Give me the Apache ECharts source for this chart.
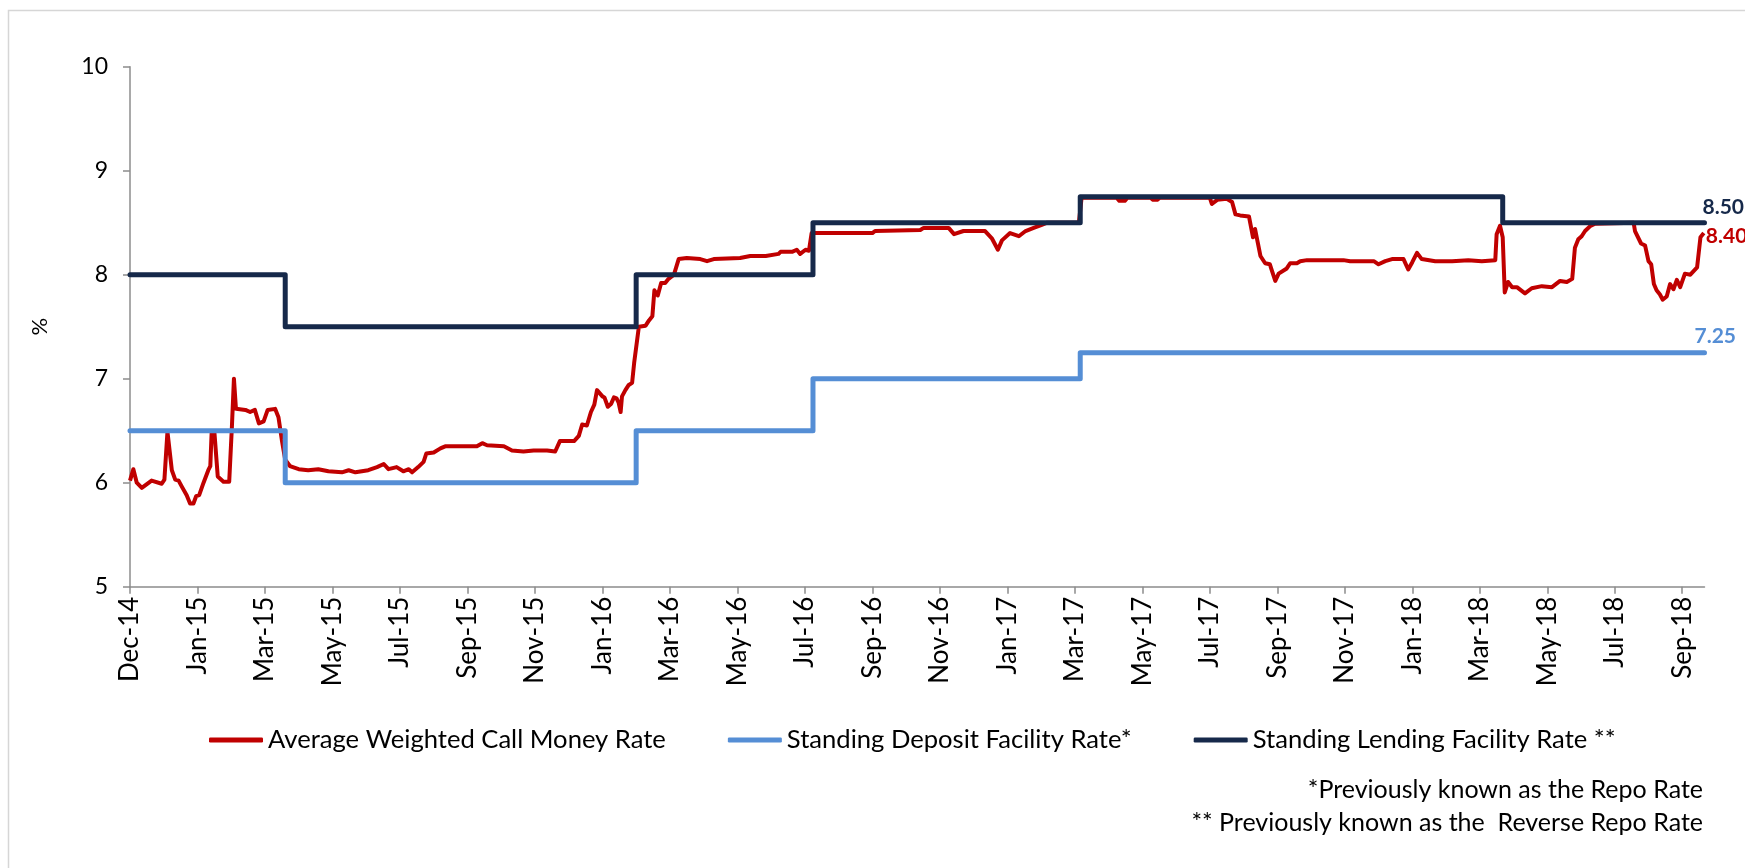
<!DOCTYPE html>
<html><head><meta charset="utf-8">
<script src="https://cdn.jsdelivr.net/npm/echarts@6/dist/echarts.min.js"></script>
<style>html,body{margin:0;padding:0;background:#fff}#c{width:1745px;height:868px}</style>
</head><body><div id="c"></div>
<script>
// x positions: 10 units per labelled tick interval
const tickLabels = ['Dec-14','Jan-15','Mar-15','May-15','Jul-15','Sep-15','Nov-15','Jan-16','Mar-16','May-16','Jul-16','Sep-16','Nov-16','Jan-17','Mar-17','May-17','Jul-17','Sep-17','Nov-17','Jan-18','Mar-18','May-18','Jul-18','Sep-18'];
const xMax = 233.3;

const sdfPos    = [0, 23.0, 75.0, 101.2, 140.8, 233.3];
const sdfValues = [6.5, 6.0, 6.5, 7.0, 7.25, 7.25];

const slfPos    = [0, 23.0, 75.0, 101.2, 140.8, 203.4, 233.3];
const slfValues = [8.0, 7.5, 8.0, 8.5, 8.75, 8.5, 8.5];

const callPos = [0,0.5,1.0,1.75,3.2,4.7,5.1,5.55,6.2,6.7,7.2,7.7,8.4,8.9,9.4,9.8,10.25,10.9,11.6,11.9,12.1,12.5,13.0,13.85,14.7,15.1,15.4,15.7,17.1,17.8,18.5,19.1,19.8,20.4,21.5,22.0,22.5,23.0,23.7,25.0,26.4,27.9,29.4,31.4,32.4,33.4,35.3,36.6,37.6,38.3,39.5,40.5,41.3,41.8,42.7,43.5,43.9,45.0,46.0,
46.7,49.0,51.4,52.2,52.9,55.4,56.6,58.3,59.8,61.8,63.0,63.7,65.8,66.5,67.0,67.7,68.3,68.8,69.2,70.0,70.3,70.8,71.3,71.7,72.1,72.4,72.7,72.9,73.4,73.9,74.4,74.7,75.4,76.4,76.9,77.4,77.7,78.2,78.7,79.3,79.8,80.6,81.3,82.5,84.5,85.5,86.5,90.4,91.9,
93.4,94.2,96.1,96.4,98.1,98.8,99.3,100.1,100.6,101.0,110.0,110.4,117.1,117.6,121.3,122.1,123.5,126.7,127.7,128.6,129.2,130.4,131.7,132.7,133.9,135.1,135.9,140.6,
141.0,146.2,146.6,147.4,147.8,151.2,151.6,152.2,152.6,160.0,160.3,161.1,162.5,163.3,163.8,164.5,165.8,166.4,166.7,167.1,167.5,168.2,168.9,169.2,169.7,170.2,171.4,171.9,172.9,173.4,174.4,176.9,179.8,180.8,182.3,184.3,185.0,186.0,
187.0,188.7,189.4,190.0,190.7,191.4,193.4,195.9,198.3,200.3,202.3,202.5,203.0,203.4,203.7,204.2,204.8,205.5,206.7,207.7,209.2,210.7,211.9,212.9,213.7,214.1,214.6,215.1,215.6,216.4,217.1,222.8,223.0,223.9,224.5,225.0,225.4,225.8,226.2,226.7,227.1,227.7,228.2,228.7,229.2,229.7,230.4,231.2,232.2,232.7,233.2];
const callValues = [6.02,6.13,6.0,5.95,6.02,5.99,6.03,6.49,6.12,6.03,6.02,5.96,5.88,5.8,5.8,5.87,5.88,6.0,6.12,6.16,6.49,6.49,6.06,6.01,6.01,6.54,7.0,6.71,6.70,6.68,6.70,6.57,6.59,6.70,6.71,6.63,6.41,6.22,6.16,6.13,6.12,6.13,6.11,6.10,6.12,6.10,6.12,6.15,6.18,6.13,6.15,6.11,6.13,6.10,6.15,6.20,6.28,6.29,6.33,
6.35,6.35,6.35,6.38,6.36,6.35,6.31,6.30,6.31,6.31,6.30,6.40,6.40,6.45,6.56,6.55,6.68,6.75,6.89,6.83,6.82,6.73,6.76,6.82,6.81,6.77,6.68,6.83,6.89,6.94,6.96,7.15,7.50,7.51,7.56,7.60,7.85,7.80,7.92,7.92,7.96,8.0,8.15,8.16,8.15,8.13,8.15,8.16,8.18,
8.18,8.18,8.20,8.22,8.22,8.24,8.20,8.24,8.23,8.40,8.40,8.42,8.43,8.45,8.45,8.39,8.42,8.42,8.35,8.24,8.33,8.40,8.37,8.42,8.45,8.48,8.50,8.50,
8.74,8.74,8.71,8.71,8.74,8.74,8.72,8.72,8.74,8.74,8.68,8.72,8.73,8.70,8.58,8.57,8.56,8.36,8.44,8.31,8.18,8.11,8.10,8.04,7.94,8.01,8.06,8.11,8.11,8.13,8.14,8.14,8.14,8.13,8.13,8.13,8.10,8.13,
8.15,8.15,8.05,8.12,8.21,8.15,8.13,8.13,8.14,8.13,8.14,8.39,8.47,8.36,7.83,7.93,7.88,7.88,7.82,7.87,7.89,7.88,7.94,7.93,7.96,8.26,8.34,8.37,8.42,8.47,8.49,8.50,8.42,8.30,8.28,8.13,8.10,7.91,7.85,7.81,7.76,7.79,7.91,7.86,7.95,7.88,8.01,8.00,8.07,8.36,8.40];

const seriesNames = ['Average Weighted Call Money Rate','Standing Deposit Facility Rate*','Standing Lending Facility Rate **'];
const footnotes = ['*Previously known as the Repo Rate','** Previously known as the  Reverse Repo Rate'];

const zip = (a, b) => a.map((v, i) => [v, b[i]]);
const FONT = 'Lato, "Open Sans", sans-serif';
const tickPos = tickLabels.map((_, i) => i * 10);

const chart = echarts.init(document.getElementById('c'), null, {renderer: 'canvas'});
chart.setOption({
  animation: false,
  backgroundColor: '#fff',
  grid: {left: 130, right: 40.5, top: 66.7, bottom: 281.3, containLabel: false},
  legend: {
    left: 204, top: 722, itemWidth: 54, itemHeight: 5, itemGap: 62, icon: 'roundRect',
    textStyle: {fontFamily: FONT, fontSize: 25.6, color: '#000'},
    data: seriesNames
  },
  xAxis: {
    type: 'value', min: 0, max: xMax, interval: 10,
    axisLine: {lineStyle: {color: '#8c8c8c', width: 1.5}},
    axisTick: {show: true, length: 7, customValues: tickPos, lineStyle: {color: '#8c8c8c', width: 1.5}},
    axisLabel: {customValues: tickPos, rotate: 90, margin: 10, color: '#000', fontFamily: FONT, fontSize: 26,
      formatter: v => tickLabels[Math.round(v / 10)] || ''},
    splitLine: {show: false}
  },
  yAxis: {
    type: 'value', min: 5, max: 10, interval: 1,
    name: '%', nameLocation: 'middle', nameRotate: 90, nameGap: 79,
    nameTextStyle: {fontFamily: FONT, fontSize: 22, color: '#000'},
    axisLine: {show: true, lineStyle: {color: '#8c8c8c', width: 1.5}},
    axisTick: {show: true, length: 7, lineStyle: {color: '#8c8c8c', width: 1.5}},
    axisLabel: {margin: 22, color: '#000', fontFamily: FONT, fontSize: 23},
    splitLine: {show: false}
  },
  series: [
    {name: seriesNames[0], type: 'line', data: zip(callPos, callValues), symbol: 'none', z: 2,
     lineStyle: {color: '#C00000', width: 4, join: 'round'}, itemStyle: {color: '#C00000'},
     endLabel: {show: true, formatter: p => p.value[1].toFixed(2), color: '#C00000', fontFamily: FONT, fontSize: 21, fontWeight: 'bold', distance: 2, offset: [0, 3]}},
    {name: seriesNames[1], type: 'line', step: 'end', data: zip(sdfPos, sdfValues), symbol: 'none', z: 3,
     lineStyle: {color: '#558ED5', width: 5, cap: 'round', join: 'round'}, itemStyle: {color: '#558ED5'},
     endLabel: {show: true, formatter: p => p.value[1].toFixed(2), color: '#558ED5', fontFamily: FONT, fontSize: 21, fontWeight: 'bold', offset: [-18, -16]}},
    {name: seriesNames[2], type: 'line', step: 'end', data: zip(slfPos, slfValues), symbol: 'none', z: 4,
     lineStyle: {color: '#16294A', width: 5, cap: 'round', join: 'round'}, itemStyle: {color: '#16294A'},
     endLabel: {show: true, formatter: p => p.value[1].toFixed(2), color: '#16294A', fontFamily: FONT, fontSize: 21, fontWeight: 'bold', offset: [-10, -15]}}
  ],
  graphic: [
    {type: 'rect', silent: true, shape: {x: 8.5, y: 10.5, width: 1800, height: 900}, style: {fill: 'none', stroke: '#d6d6d6', lineWidth: 1.5}},
    {type: 'text', right: 42, top: 777, style: {text: footnotes[0], font: '25px ' + FONT, fill: '#000', textAlign: 'right'}},
    {type: 'text', right: 42, top: 810, style: {text: footnotes[1], font: '25px ' + FONT, fill: '#000', textAlign: 'right'}}
  ]
});
</script></body></html>
